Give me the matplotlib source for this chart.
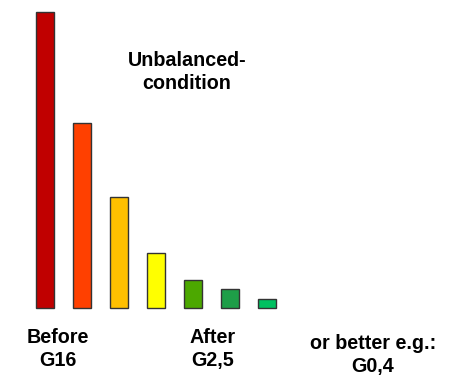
import matplotlib.pyplot as plt

# bar heights (relative units)
levels = [296, 185, 111, 55, 28, 19, 9]
colors = ['#C00000', '#FF4000', '#FFC000', '#FFFF00', '#4CA800', '#1E9E48', '#00C060']
labels = ['Before\nG16', 'After\nG2,5', 'or better e.g.:\nG0,4']

plt.rcParams['font.family'] = ['Liberation Sans', 'DejaVu Sans']

fig = plt.figure(figsize=(4.5, 3.86), dpi=100)
ax = fig.add_axes([0, 0, 1, 1])
ax.bar(range(len(levels)), levels, width=0.49, color=colors,
       edgecolor='#333333', linewidth=1)
ax.set_xlim(-1.216, 10.95)
ax.set_ylim(-78, 308)
ax.axis('off')

# annotations
fs = 14.2
fig.text(187 / 450, 1 - 72 / 386, 'Unbalanced-\ncondition', ha='center', va='center',
         fontsize=fs, fontweight='bold', linespacing=1.25)
fig.text(58 / 450, 1 - 349 / 386, labels[0], ha='center', va='center',
         fontsize=fs, fontweight='bold', linespacing=1.25)
fig.text(213 / 450, 1 - 349 / 386, labels[1], ha='center', va='center',
         fontsize=fs, fontweight='bold', linespacing=1.25)
fig.text(373 / 450, 1 - 355 / 386, labels[2], ha='center', va='center',
         fontsize=fs, fontweight='bold', linespacing=1.25)

fig.savefig('out.png', dpi=100)
